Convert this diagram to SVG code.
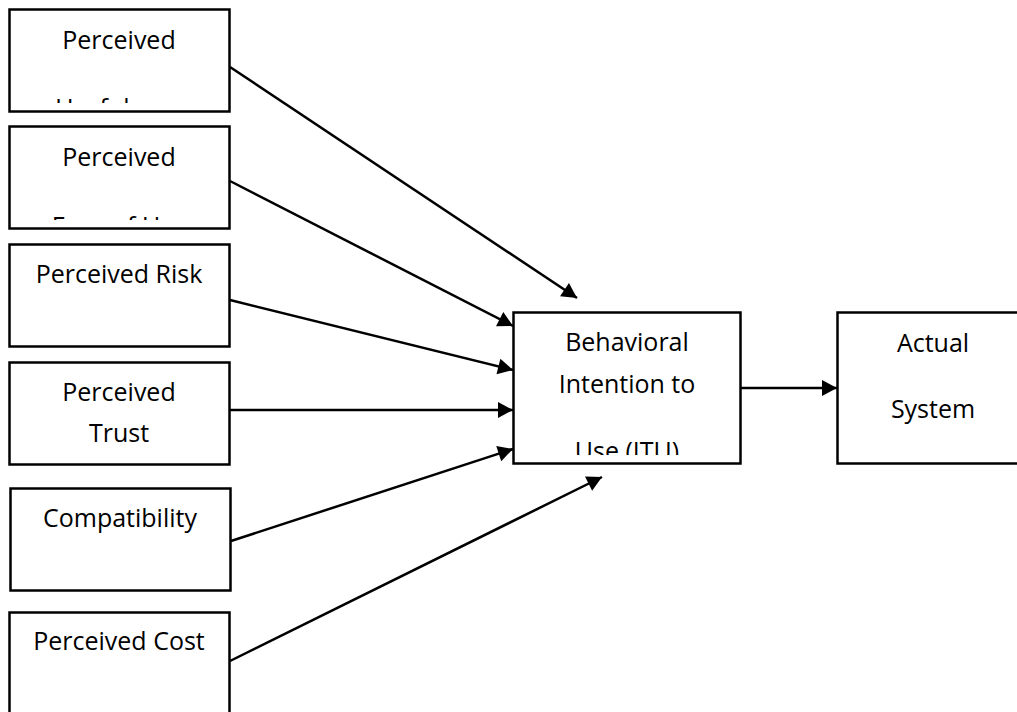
<svg xmlns="http://www.w3.org/2000/svg" width="1017" height="712" viewBox="0 0 1017 712">
<style>
.box{fill:#fff;stroke:#000;stroke-width:2.5}
.t{font-family:"Open Sans","Noto Sans",sans-serif;font-size:25px;fill:#000;text-anchor:middle}
.c{stroke:#000;stroke-width:2.5;fill:none;marker-end:url(#ah)}
</style>
<defs>
<marker id="ah" markerUnits="userSpaceOnUse" markerWidth="17" markerHeight="17" refX="16" refY="8.5" orient="auto">
<path d="M1,0.5 L16,8.5 L1,16.5 Z" fill="#000"/>
</marker>
<clipPath id="cp1"><rect x="11" y="11" width="216" height="92"/></clipPath>
<clipPath id="cp2"><rect x="11" y="128" width="216" height="92"/></clipPath>
<clipPath id="cp3"><rect x="515" y="314" width="223" height="141"/></clipPath>
</defs>
<g id="connectors">
<line class="c" x1="230" y1="67" x2="577" y2="298"/>
<line class="c" x1="230" y1="181" x2="513" y2="326"/>
<line class="c" x1="230" y1="300" x2="513" y2="370"/>
<line class="c" x1="230" y1="410" x2="513" y2="410"/>
<line class="c" x1="231" y1="541" x2="513" y2="449"/>
<line class="c" x1="230" y1="661" x2="602" y2="477"/>
<line class="c" x1="740" y1="388" x2="837" y2="388"/>
</g>
<g id="n1">
<rect class="box" x="9.5" y="9.5" width="220" height="102"/>
<g clip-path="url(#cp1)">
<text class="t" x="119" y="49">Perceived</text>
<text class="t" x="119" y="117">Usefulness</text>
</g>
</g>
<g id="n2">
<rect class="box" x="9.5" y="126.5" width="220" height="102"/>
<g clip-path="url(#cp2)">
<text class="t" x="119" y="166">Perceived</text>
<text class="t" x="119" y="235">Ease of Use</text>
</g>
</g>
<g id="n3">
<rect class="box" x="9.5" y="244.5" width="220" height="102"/>
<text class="t" x="119" y="283">Perceived Risk</text>
</g>
<g id="n4">
<rect class="box" x="9.5" y="362.5" width="220" height="102"/>
<text class="t" x="119" y="401">Perceived</text>
<text class="t" x="119" y="442">Trust</text>
</g>
<g id="n5">
<rect class="box" x="10.5" y="488.5" width="220" height="102"/>
<text class="t" x="120" y="527">Compatibility</text>
</g>
<g id="n6">
<rect class="box" x="9.5" y="612.5" width="220" height="110"/>
<text class="t" x="119" y="650">Perceived Cost</text>
</g>
<g id="n7">
<rect class="box" x="513.5" y="312.5" width="227" height="151"/>
<g clip-path="url(#cp3)">
<text class="t" x="627" y="351">Behavioral</text>
<text class="t" x="627" y="393">Intention to</text>
<text class="t" x="627" y="460">Use (ITU)</text>
</g>
</g>
<g id="n8">
<rect class="box" x="837.5" y="312.5" width="192" height="151"/>
<text class="t" x="933" y="352">Actual</text>
<text class="t" x="933" y="418">System</text>
</g>
</svg>
